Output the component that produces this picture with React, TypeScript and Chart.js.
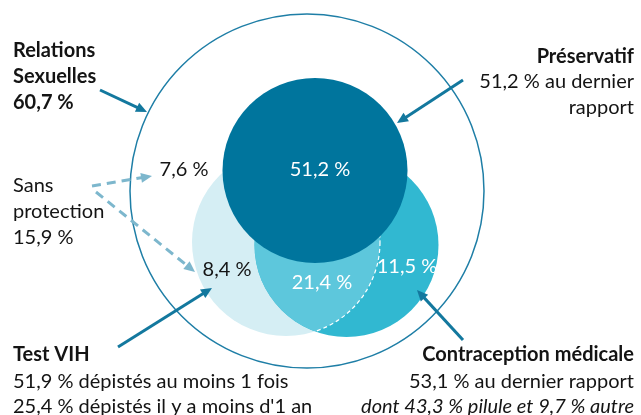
import React, { useEffect, useRef } from "react";
import { Chart, registerables } from "chart.js";
Chart.register(...registerables);

const W = 641;
const H = 415;

// ---- Data (shares, %) ----
const setNames = ["Relations", "Préservatif", "Test VIH", "Contraception médicale"];
const setShares = [60.7, 51.2, 51.9, 53.1];
const regionLabels = ["7,6 %", "51,2 %", "8,4 %", "21,4 %", "11,5 %"];
const sansProtection = 15.9;
const testRecent = 25.4;
const pilule = 43.3;
const autre = 9.7;

const fmt = (v: number) => v.toFixed(1).replace(".", ",") + " %";

// ---- Layout (pixel space of the 641x415 frame) ----
const CIRCLES = {
  outer: { x: 307, y: 191, r: 177 },
  condom: { x: 315, y: 170.5, r: 92.5 },
  test: { x: 286, y: 242, r: 94 },
  contra: { x: 346.5, y: 245, r: 92 },
};

const C_DARK = "#00759d";
const C_CYAN = "#31b8d1";
const C_MID = "#5dc7dc";
const C_LIGHT = "#d5eef4";
const C_OUTER = "#1e7ea6";
const C_ARROW = "#13789e";
const C_DASH = "#7db7cd";
const C_TEXT = "#141414";

const FONT = "Lato, 'Open Sans', sans-serif";
const FS = 20;

const ARROWS = [
  { from: [100, 90], to: [147, 112], color: C_ARROW, dash: [] as number[] },
  { from: [463, 80], to: [397, 123], color: C_ARROW, dash: [] as number[] },
  { from: [118, 347], to: [212, 288], color: C_ARROW, dash: [] as number[] },
  { from: [463, 340], to: [417, 290], color: C_ARROW, dash: [] as number[] },
  { from: [92, 186], to: [152, 176], color: C_DASH, dash: [9, 6] },
  { from: [96, 192], to: [195, 272], color: C_DASH, dash: [9, 6] },
];

type T = { t: string; x: number; y: number; align: CanvasTextAlign; w: string; it?: boolean; c?: string };
const TEXTS: T[] = [
  { t: setNames[0], x: 13, y: 51, align: "left", w: "bold" },
  { t: "Sexuelles", x: 13, y: 77, align: "left", w: "bold" },
  { t: fmt(setShares[0]), x: 13, y: 103, align: "left", w: "bold" },
  { t: setNames[1], x: 634, y: 57, align: "right", w: "bold" },
  { t: fmt(setShares[1]) + " au dernier", x: 634, y: 82, align: "right", w: "normal" },
  { t: "rapport", x: 634, y: 108, align: "right", w: "normal" },
  { t: "Sans", x: 13, y: 186, align: "left", w: "normal" },
  { t: "protection", x: 13, y: 212, align: "left", w: "normal" },
  { t: fmt(sansProtection), x: 13, y: 238, align: "left", w: "normal" },
  { t: regionLabels[0], x: 184, y: 170, align: "center", w: "normal" },
  { t: regionLabels[1], x: 320, y: 170, align: "center", w: "normal", c: "#ffffff" },
  { t: regionLabels[2], x: 227, y: 270, align: "center", w: "normal" },
  { t: regionLabels[3], x: 322, y: 283, align: "center", w: "normal", c: "#ffffff" },
  { t: regionLabels[4], x: 407, y: 267, align: "center", w: "normal", c: "#ffffff" },
  { t: setNames[2], x: 13, y: 355, align: "left", w: "bold" },
  { t: fmt(setShares[2]) + " dépistés au moins 1 fois", x: 13, y: 382, align: "left", w: "normal" },
  { t: fmt(testRecent) + " dépistés il y a moins d'1 an", x: 13, y: 407, align: "left", w: "normal" },
  { t: setNames[3], x: 634, y: 355, align: "right", w: "bold" },
  { t: fmt(setShares[3]) + " au dernier rapport", x: 634, y: 382, align: "right", w: "normal" },
  { t: "dont " + fmt(pilule) + " pilule et " + fmt(autre) + " autre", x: 634, y: 407, align: "right", w: "normal", it: true },
];

const vennPlugin = {
  id: "venn",
  afterDatasetDraw(chart: any, args: any) {
    const ds = chart.data.datasets[args.index];
    if (ds.label !== "contra") return;
    const sx = chart.scales.x, sy = chart.scales.y;
    const ctx = chart.ctx as CanvasRenderingContext2D;
    const a = CIRCLES.test, b = CIRCLES.contra;
    ctx.save();
    ctx.beginPath();
    ctx.arc(sx.getPixelForValue(b.x), sy.getPixelForValue(b.y), b.r, 0, Math.PI * 2);
    ctx.clip();
    ctx.beginPath();
    ctx.arc(sx.getPixelForValue(a.x), sy.getPixelForValue(a.y), a.r, 0, Math.PI * 2);
    ctx.fillStyle = C_MID;
    ctx.fill();
    ctx.setLineDash([4, 3]);
    ctx.strokeStyle = "#ffffff";
    ctx.lineWidth = 1.2;
    ctx.stroke();
    ctx.restore();
  },
  afterDraw(chart: any) {
    const sx = chart.scales.x, sy = chart.scales.y;
    const ctx = chart.ctx as CanvasRenderingContext2D;
    ctx.save();
    // arrow heads
    ARROWS.forEach((ar) => {
      const x0 = sx.getPixelForValue(ar.from[0]), y0 = sy.getPixelForValue(ar.from[1]);
      const x1 = sx.getPixelForValue(ar.to[0]), y1 = sy.getPixelForValue(ar.to[1]);
      const ang = Math.atan2(y1 - y0, x1 - x0);
      const L = 11, Wd = 5;
      ctx.beginPath();
      ctx.moveTo(x1, y1);
      ctx.lineTo(x1 - L * Math.cos(ang) + Wd * Math.sin(ang), y1 - L * Math.sin(ang) - Wd * Math.cos(ang));
      ctx.lineTo(x1 - L * Math.cos(ang) - Wd * Math.sin(ang), y1 - L * Math.sin(ang) + Wd * Math.cos(ang));
      ctx.closePath();
      ctx.fillStyle = ar.color;
      ctx.fill();
    });
    // texts
    ctx.textBaseline = "middle";
    TEXTS.forEach((t) => {
      ctx.font = `${t.it ? "italic " : ""}${t.w} ${FS}px ${FONT}`;
      ctx.fillStyle = t.c || C_TEXT;
      ctx.textAlign = t.align;
      ctx.fillText(t.t, sx.getPixelForValue(t.x), sy.getPixelForValue(t.y));
    });
    ctx.restore();
  },
};

export default function App() {
  const ref = useRef<HTMLCanvasElement | null>(null);
  useEffect(() => {
    document.body.style.margin = "0";
    document.body.style.overflow = "hidden";
    const canvas = ref.current!;
    const circle = (label: string, c: { x: number; y: number; r: number }, bg: string, border: string, bw: number, order: number) => ({
      type: "bubble" as const,
      label,
      data: [{ x: c.x, y: c.y, r: c.r }],
      backgroundColor: bg,
      borderColor: border,
      borderWidth: bw,
      hoverRadius: 0,
      clip: false,
      order,
    });
    const arrowLines = ARROWS.map((ar, i) => {
      const ang = Math.atan2(ar.to[1] - ar.from[1], ar.to[0] - ar.from[0]);
      return {
        type: "line" as const,
        label: "arrow" + i,
        data: [
          { x: ar.from[0], y: ar.from[1] },
          { x: ar.to[0] - 8 * Math.cos(ang), y: ar.to[1] - 8 * Math.sin(ang) },
        ],
        borderColor: ar.color,
        borderWidth: 3,
        borderDash: ar.dash,
        pointRadius: 0,
        fill: false,
        order: 0,
      };
    });
    const chart = new Chart(canvas, {
      type: "bubble",
      data: {
        datasets: [
          ...arrowLines,
          circle("condom", CIRCLES.condom, C_DARK, C_DARK, 0, 1),
          circle("contra", CIRCLES.contra, C_CYAN, C_CYAN, 0, 2),
          circle("test", CIRCLES.test, C_LIGHT, C_LIGHT, 0, 3),
          circle("outer", CIRCLES.outer, "rgba(255,255,255,0)", C_OUTER, 1.5, 4),
        ] as any,
      },
      options: {
        animation: false,
        responsive: false,
        events: [],
        layout: { padding: 0, autoPadding: false },
        plugins: { legend: { display: false }, tooltip: { enabled: false } },
        scales: {
          x: { type: "linear", min: 0, max: W, display: false },
          y: { type: "linear", min: 0, max: H, reverse: true, display: false },
        },
      },
      plugins: [vennPlugin],
    });
    return () => chart.destroy();
  }, []);
  return (
    <div style={{ width: W, height: H, background: "#fff" }}>
      <canvas ref={ref} width={W} height={H} style={{ width: W, height: H, display: "block" }} />
    </div>
  );
}
